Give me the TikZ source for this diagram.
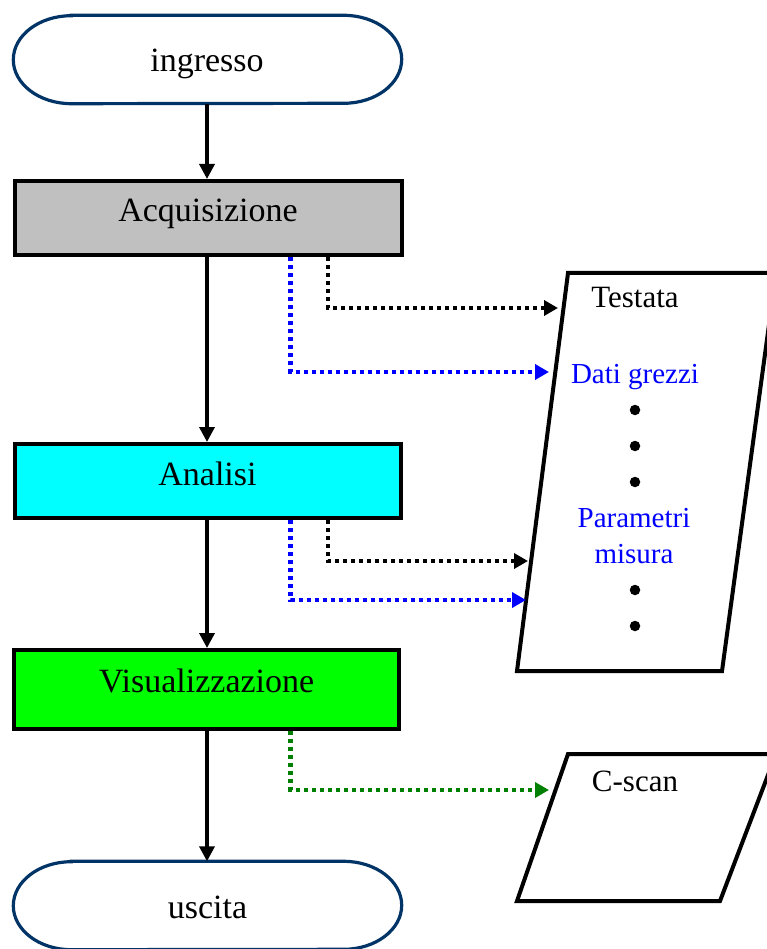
\documentclass[tikz,border=0pt]{standalone}
\usepackage{fontspec}
\setmainfont{Liberation Serif}
\usetikzlibrary{arrows.meta,calc}
\definecolor{termcol}{RGB}{0,51,102}
\definecolor{grayfill}{RGB}{192,192,192}
\definecolor{cyanfill}{RGB}{0,255,255}
\definecolor{greenfill}{RGB}{0,255,0}
\definecolor{dgreen}{RGB}{0,128,0}
\begin{document}
\begin{tikzpicture}[x=1pt,y=-1pt,
  terminal/.style={minimum width=388pt, minimum height=88pt, inner sep=0pt},
  termline/.style={draw=termcol, line width=3.2pt, fill=white},
  procbox/.style={draw=black, line width=4pt, minimum height=74pt, inner sep=0pt},
  maintxt/.style={font=\fontsize{34}{40}\selectfont, inner sep=0pt, anchor=base},
  flow/.style={line width=3.5pt, -{Triangle[length=15pt,width=15pt]}},
  datalink/.style={line width=4.2pt, dash pattern=on 4pt off 4pt,
    -{Triangle[length=14pt,width=15pt]}},
  store/.style={draw=black, line width=4pt, fill=white, line join=miter},
  bigtxt/.style={font=\fontsize{31}{36}\selectfont, inner sep=0pt, anchor=base},
  bluetxt/.style={font=\fontsize{29}{34}\selectfont, text=blue, inner sep=0pt, anchor=base},
  dot/.style={circle, fill=black, minimum size=10.5pt, inner sep=0pt}
]
\useasboundingbox (0,0) rectangle (766,949);

% start and end terminals (stadium outlines with elliptical ends)
\node[terminal] (in) at (207.5,59.5) {};
\node[terminal] (out) at (207.5,905.5) {};
\foreach \t in {in,out}{
  \draw[termline] ($(\t.north west)+(58,0)$) -- ($(\t.north east)+(-58,0)$)
    arc[start angle=90, end angle=-90, x radius=58pt, y radius=44pt]
    -- ($(\t.south west)+(58,0)$)
    arc[start angle=270, end angle=90, x radius=58pt, y radius=44pt] -- cycle;
}
\node[maintxt] (inT) at (207,72) {ingresso};
\node[maintxt] (outT) at (207.5,918) {uscita};

% process boxes
\node[procbox, fill=grayfill, minimum width=387pt] (acq) at (208.5,218) {};
\node[procbox, fill=cyanfill, minimum width=386pt] (ana) at (208,481) {};
\node[procbox, fill=greenfill, minimum width=385pt, minimum height=79pt] (vis) at (206.5,689.5) {};
\node[maintxt] (acqT) at (208,222) {Acquisizione};
\node[maintxt] (anaT) at (207.5,485) {Analisi};
\node[maintxt] (visT) at (206.7,692) {Visualizzazione};

\coordinate (axis) at (207,0);
\draw[flow] (in.south -| axis) -- (acq.north -| axis);
\draw[flow] (acq.south -| axis) -- (ana.north -| axis);
\draw[flow] (ana.south -| axis) -- (vis.north -| axis);
\draw[flow] (vis.south -| axis) -- (out.north -| axis);

% data stores
\draw[store] (568,273) -- (776,273) -- (722,671) -- (517,671) -- cycle;
\draw[store] (568,754) -- (776,754) -- (720,901) -- (517,901) -- cycle;

\node[bigtxt] (testata) at (635,307) {Testata};
\node[bluetxt] (grezzi) at (635,383) {Dati grezzi};
\node[dot] (d1) at (635,410) {};
\node[dot] (d2) at (635,446) {};
\node[dot] (d3) at (635,482) {};
\node[bluetxt] (param) at (634,527) {Parametri};
\node[bluetxt] (misura) at (634,563) {misura};
\node[dot] (d4) at (635,590) {};
\node[dot] (d5) at (635,626) {};
\node[bigtxt] (cscan) at (635,791) {C-scan};

% arrow targets on the store edges
\coordinate (tHead) at (558,308);
\coordinate (tRaw) at (549,372);
\coordinate (tHead2) at (528,561);
\coordinate (tRaw2) at (526,600);
\coordinate (tScan) at (549,790);

% columns of the data links
\coordinate (colK) at (328,0);
\coordinate (colB) at (290.5,0);

\draw[datalink, black] (acq.south -| colK) |- (tHead);
\draw[datalink, blue] (acq.south -| colB) |- (tRaw);
\draw[datalink, black] (ana.south -| colK) |- (tHead2);
\draw[datalink, blue] (ana.south -| colB) |- (tRaw2);
\draw[datalink, dgreen] (vis.south -| colB) |- (tScan);
\end{tikzpicture}
\end{document}
